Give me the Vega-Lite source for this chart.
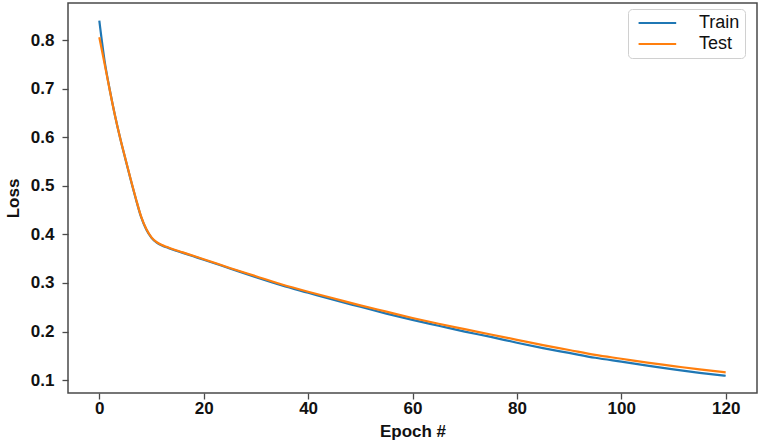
{
  "$schema": "https://vega.github.io/schema/vega-lite/v6.json",
  "width": 689,
  "height": 390,
  "autosize": {"type": "none"},
  "padding": {"left": 68, "top": 3, "right": 4, "bottom": 49},
  "background": "white",
  "config": {
    "font": "Liberation Sans",
    "view": {"stroke": "#4a4a4a", "strokeWidth": 1.5},
    "axis": {
      "grid": false,
      "domain": false,
      "tickColor": "#4a4a4a",
      "tickSize": 6,
      "tickWidth": 1.3,
      "labelFont": "Liberation Sans",
      "labelFontWeight": "bold",
      "labelFontSize": 17,
      "labelColor": "#111",
      "titleFont": "Liberation Sans",
      "titleFontWeight": "bold",
      "titleFontSize": 17,
      "titleColor": "#111"
    }
  },
  "data": {
    "values": [
      {"epoch": 0, "loss": 0.840, "series": "Train"},
      {"epoch": 1, "loss": 0.758, "series": "Train"},
      {"epoch": 2, "loss": 0.698, "series": "Train"},
      {"epoch": 3, "loss": 0.645, "series": "Train"},
      {"epoch": 4, "loss": 0.598, "series": "Train"},
      {"epoch": 5, "loss": 0.555, "series": "Train"},
      {"epoch": 6, "loss": 0.513, "series": "Train"},
      {"epoch": 7, "loss": 0.473, "series": "Train"},
      {"epoch": 8, "loss": 0.436, "series": "Train"},
      {"epoch": 9, "loss": 0.410, "series": "Train"},
      {"epoch": 10, "loss": 0.393, "series": "Train"},
      {"epoch": 11, "loss": 0.383, "series": "Train"},
      {"epoch": 12, "loss": 0.377, "series": "Train"},
      {"epoch": 13, "loss": 0.373, "series": "Train"},
      {"epoch": 14, "loss": 0.369, "series": "Train"},
      {"epoch": 16, "loss": 0.362, "series": "Train"},
      {"epoch": 18, "loss": 0.355, "series": "Train"},
      {"epoch": 20, "loss": 0.348, "series": "Train"},
      {"epoch": 25, "loss": 0.330, "series": "Train"},
      {"epoch": 30, "loss": 0.312, "series": "Train"},
      {"epoch": 35, "loss": 0.295, "series": "Train"},
      {"epoch": 40, "loss": 0.280, "series": "Train"},
      {"epoch": 45, "loss": 0.265, "series": "Train"},
      {"epoch": 50, "loss": 0.251, "series": "Train"},
      {"epoch": 55, "loss": 0.237, "series": "Train"},
      {"epoch": 60, "loss": 0.224, "series": "Train"},
      {"epoch": 65, "loss": 0.212, "series": "Train"},
      {"epoch": 70, "loss": 0.200, "series": "Train"},
      {"epoch": 75, "loss": 0.189, "series": "Train"},
      {"epoch": 80, "loss": 0.177, "series": "Train"},
      {"epoch": 85, "loss": 0.166, "series": "Train"},
      {"epoch": 90, "loss": 0.156, "series": "Train"},
      {"epoch": 95, "loss": 0.146, "series": "Train"},
      {"epoch": 100, "loss": 0.138, "series": "Train"},
      {"epoch": 105, "loss": 0.130, "series": "Train"},
      {"epoch": 110, "loss": 0.122, "series": "Train"},
      {"epoch": 115, "loss": 0.115, "series": "Train"},
      {"epoch": 120, "loss": 0.109, "series": "Train"},
      {"epoch": 0, "loss": 0.806, "series": "Test"},
      {"epoch": 1, "loss": 0.752, "series": "Test"},
      {"epoch": 2, "loss": 0.697, "series": "Test"},
      {"epoch": 3, "loss": 0.645, "series": "Test"},
      {"epoch": 4, "loss": 0.598, "series": "Test"},
      {"epoch": 5, "loss": 0.556, "series": "Test"},
      {"epoch": 6, "loss": 0.514, "series": "Test"},
      {"epoch": 7, "loss": 0.474, "series": "Test"},
      {"epoch": 8, "loss": 0.437, "series": "Test"},
      {"epoch": 9, "loss": 0.411, "series": "Test"},
      {"epoch": 10, "loss": 0.394, "series": "Test"},
      {"epoch": 11, "loss": 0.384, "series": "Test"},
      {"epoch": 12, "loss": 0.378, "series": "Test"},
      {"epoch": 13, "loss": 0.374, "series": "Test"},
      {"epoch": 14, "loss": 0.370, "series": "Test"},
      {"epoch": 16, "loss": 0.363, "series": "Test"},
      {"epoch": 18, "loss": 0.356, "series": "Test"},
      {"epoch": 20, "loss": 0.349, "series": "Test"},
      {"epoch": 25, "loss": 0.331, "series": "Test"},
      {"epoch": 30, "loss": 0.314, "series": "Test"},
      {"epoch": 35, "loss": 0.297, "series": "Test"},
      {"epoch": 40, "loss": 0.282, "series": "Test"},
      {"epoch": 45, "loss": 0.268, "series": "Test"},
      {"epoch": 50, "loss": 0.254, "series": "Test"},
      {"epoch": 55, "loss": 0.241, "series": "Test"},
      {"epoch": 60, "loss": 0.228, "series": "Test"},
      {"epoch": 65, "loss": 0.216, "series": "Test"},
      {"epoch": 70, "loss": 0.205, "series": "Test"},
      {"epoch": 75, "loss": 0.194, "series": "Test"},
      {"epoch": 80, "loss": 0.183, "series": "Test"},
      {"epoch": 85, "loss": 0.172, "series": "Test"},
      {"epoch": 90, "loss": 0.162, "series": "Test"},
      {"epoch": 95, "loss": 0.152, "series": "Test"},
      {"epoch": 100, "loss": 0.144, "series": "Test"},
      {"epoch": 105, "loss": 0.136, "series": "Test"},
      {"epoch": 110, "loss": 0.129, "series": "Test"},
      {"epoch": 115, "loss": 0.122, "series": "Test"},
      {"epoch": 120, "loss": 0.116, "series": "Test"}
    ]
  },
  "mark": {"type": "line", "strokeWidth": 2.2, "interpolate": "monotone", "clip": true},
  "encoding": {
    "x": {
      "field": "epoch",
      "type": "quantitative",
      "scale": {"domain": [-6, 126], "nice": false, "zero": false},
      "axis": {"values": [0, 20, 40, 60, 80, 100, 120], "title": "Epoch #", "labelPadding": 1, "titlePadding": 7}
    },
    "y": {
      "field": "loss",
      "type": "quantitative",
      "scale": {"domain": [0.0735, 0.8765], "nice": false, "zero": false},
      "axis": {"values": [0.1, 0.2, 0.3, 0.4, 0.5, 0.6, 0.7, 0.8], "format": ".1f", "title": "Loss", "labelPadding": 8, "titlePadding": 8}
    },
    "color": {
      "field": "series",
      "type": "nominal",
      "sort": ["Train", "Test"],
      "scale": {"domain": ["Train", "Test"], "range": ["#1f77b4", "#ff7f0e"]},
      "legend": {
        "title": null,
        "orient": "none",
        "legendX": 560,
        "legendY": 6,
        "symbolType": "M-0.5,0H5",
        "symbolSize": 187,
        "symbolStrokeWidth": 2.2,
        "labelFont": "Liberation Sans",
        "labelFontSize": 18,
        "labelColor": "#111",
        "labelOffset": 48,
        "rowPadding": 3,
        "padding": 5,
        "strokeColor": "#d0d0d0",
        "fillColor": "white",
        "cornerRadius": 4
      }
    }
  }
}
